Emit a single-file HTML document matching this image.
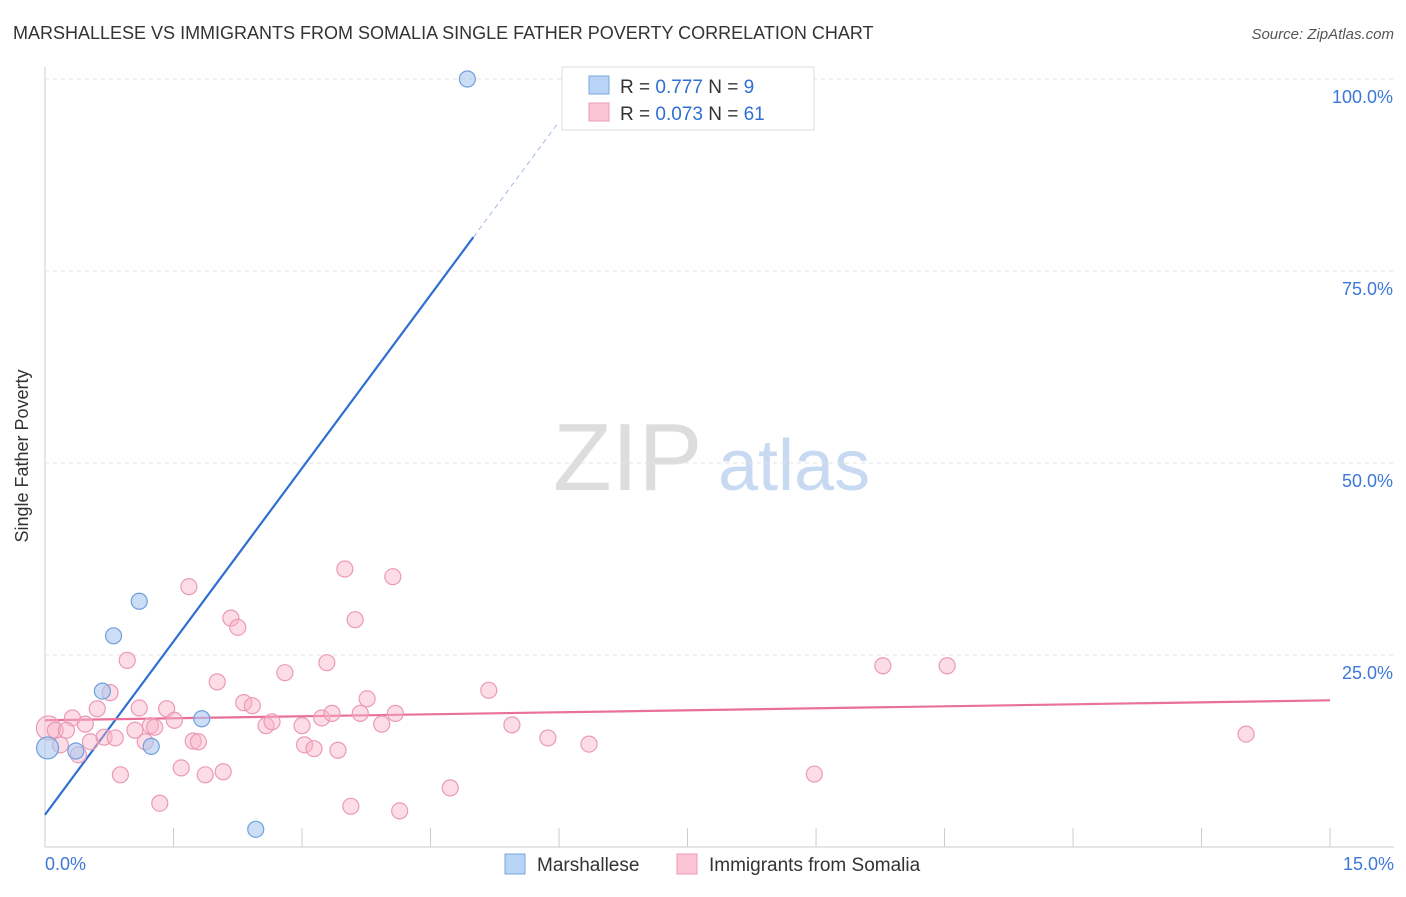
<!DOCTYPE html>
<html><head><meta charset="utf-8"><style>
body{margin:0;background:#fff;font-family:"Liberation Sans",sans-serif}
svg text{font-family:"Liberation Sans",sans-serif}
</style></head><body>
<svg id="c" width="1406" height="892">
<text x="13" y="39" font-size="18" fill="#333">MARSHALLESE VS IMMIGRANTS FROM SOMALIA SINGLE FATHER POVERTY CORRELATION CHART</text>
<text x="1394" y="39" font-size="15" fill="#555" text-anchor="end" font-style="italic">Source: ZipAtlas.com</text>
<text x="28" y="456" font-size="18" fill="#333" text-anchor="middle" transform="rotate(-90 28 456)">Single Father Poverty</text>
<g><text x="553" y="490" font-size="96" fill="#ddd" font-family="Liberation Serif,serif">ZIP</text><text x="718" y="490" font-size="72" fill="#c8daf2">atlas</text></g>
<g id="grid"></g><g id="marks"></g>
<g>
<rect x="562" y="67" width="252" height="63" fill="#fff" stroke="#ddd"/>
<rect x="589" y="76" width="20" height="18" fill="#b8d3f5" stroke="#7aa7e0"/>
<rect x="589" y="103" width="20" height="18" fill="#fbc5d5" stroke="#ee9ab5"/>
<text x="620" y="93" font-size="19" fill="#333">R = <tspan fill="#2f6fd1">0.777</tspan>   N =  <tspan fill="#2f6fd1"> 9</tspan></text>
<text x="620" y="120" font-size="19" fill="#333">R = <tspan fill="#2f6fd1">0.073</tspan>   N = <tspan fill="#2f6fd1">61</tspan></text>
</g>
<g>
<rect x="505" y="854" width="20" height="20" fill="#b8d3f5" stroke="#7aa7e0"/>
<text x="537" y="871" font-size="19" fill="#333">Marshallese</text>
<rect x="677" y="854" width="20" height="20" fill="#fbc5d5" stroke="#ee9ab5"/>
<text x="709" y="871" font-size="19" fill="#333">Immigrants from Somalia</text>
</g>
</svg>
<script>
const xTicks=[0,1.5,3,4.5,6,7.5,9,10.5,12,13.5,15];
const yTicks=[25,50,75,100];
const yTickLabels=["25.0%","50.0%","75.0%","100.0%"];
const xLabels=["0.0%","15.0%"];
const blueX=[4.93,1.1,0.8,0.67,1.83,1.24,0.36,0.03,2.46];
const blueY=[100,32,27.5,20.3,16.7,13.1,12.5,12.9,2.3];
const pinkX=[0.04,0.12,0.32,0.47,0.61,0.25,0.18,0.39,0.53,0.69,0.76,0.82,0.88,0.96,1.05,1.10,1.17,1.23,1.28,1.34,1.42,1.51,1.59,1.68,1.73,1.79,1.87,2.01,2.08,2.17,2.25,2.32,2.42,2.58,2.65,2.80,3.00,3.03,3.14,3.23,3.29,3.35,3.42,3.50,3.57,3.62,3.68,3.76,3.93,4.06,4.09,4.14,4.73,5.18,5.45,5.87,6.35,8.98,9.78,10.53,14.02];
const pinkY=[15.5,15.2,16.8,16.0,18.0,15.2,13.3,12.0,13.7,14.3,20.1,14.2,9.4,24.3,15.2,18.1,13.7,15.8,15.6,5.7,18.0,16.5,10.3,33.9,13.8,13.7,9.4,21.5,9.8,29.8,28.6,18.8,18.4,15.8,16.3,22.7,15.8,13.3,12.8,16.8,24.0,17.4,12.6,36.2,5.3,29.6,17.4,19.3,16.0,35.2,17.4,4.7,7.7,20.4,15.9,14.2,13.4,9.5,23.6,23.6,14.7];
const blueLine=[4.2,79.4,5.0,6.0];
const pinkLine=[16.5,19.1,15];
const X=v=>45+v*85.67, Y=v=>847-v*7.68;
const NS="http://www.w3.org/2000/svg";
function mk(t,a,p){const e=document.createElementNS(NS,t);for(const k in a)e.setAttribute(k,a[k]);p.appendChild(e);return e;}
const g=document.getElementById('grid'), m=document.getElementById('marks');
let ax=mk('line',{x1:45,y1:67,x2:45,y2:847,stroke:'#ccc'},g);


let bx=mk('line',{x1:45,y1:847,x2:1394,y2:847,stroke:'#ccc'},g);


yTicks.forEach((v,i)=>{
 const l=mk('line',{x1:45,y1:Y(v),x2:1394,y2:Y(v),stroke:'#e3e3e3','stroke-dasharray':'4 4'},g);
 
 
 const t=mk('text',{x:1393,y:Y(v)+24,'font-size':18,fill:'#3d78d8','text-anchor':'end'},g);t.textContent=yTickLabels[i];
 
 
});
xTicks.forEach(v=>{const l=mk('line',{x1:X(v),y1:828,x2:X(v),y2:847,stroke:'#ccc'},g);
 
 });
[[0,'start',45],[15,'end',1394]].forEach((d,i)=>{const t=mk('text',{x:d[2],y:870,'font-size':18,fill:'#3d78d8','text-anchor':d[1]},g);t.textContent=xLabels[i];
 
 });
const slope=(blueLine[1]-blueLine[0])/blueLine[2];
let bl=mk('line',{x1:X(0),y1:Y(blueLine[0]),x2:X(blueLine[2]),y2:Y(blueLine[1]),stroke:'#2f6fd1','stroke-width':2.2},m);


let bd=mk('line',{x1:X(blueLine[2]),y1:Y(blueLine[1]),x2:X(blueLine[3]),y2:Y(blueLine[0]+slope*blueLine[3]),stroke:'#9dbbe8','stroke-width':1,'stroke-dasharray':'5 4'},m);


let pl=mk('line',{x1:X(0),y1:Y(pinkLine[0]),x2:X(pinkLine[2]),y2:Y(pinkLine[1]),stroke:'#e8709a','stroke-width':2.2},m);


pinkX.forEach((v,i)=>{const c=mk('circle',{cx:X(v),cy:Y(pinkY[i]),r:i==0?12:8,fill:'rgba(248,180,200,0.45)',stroke:'#eb9ab5','stroke-width':1.2},m);
 
 });
blueX.forEach((v,i)=>{const c=mk('circle',{cx:X(v),cy:Y(blueY[i]),r:i==7?11:8,fill:'rgba(170,200,240,0.6)',stroke:'#6f9fdc','stroke-width':1.2},m);
 
 });
</script>
</body></html>
